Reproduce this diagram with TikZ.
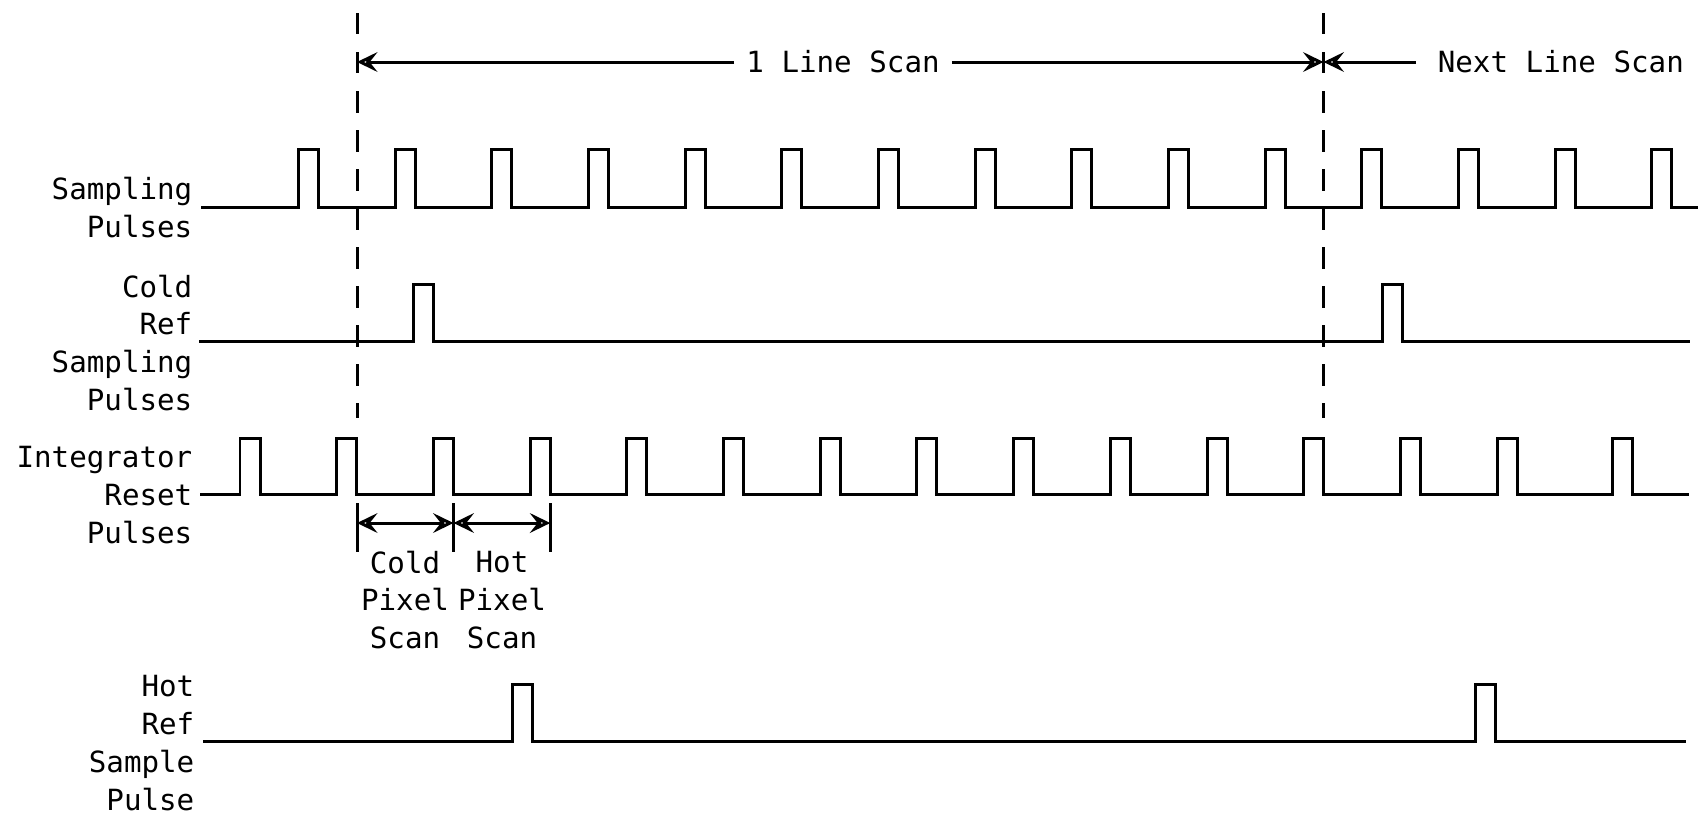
\documentclass[tikz,border=0pt]{standalone}
\usepackage{fontspec}
\setmonofont{DejaVu Sans Mono}
\usetikzlibrary{arrows.meta, positioning}
\tikzset{
  wave/.style={line width=0.85pt, line join=miter},
  guide/.style={line width=0.85pt, dash pattern=on 6.1pt off 5pt},
  tip/.style={line width=0.85pt, -{Stealth[open,length=5.8pt,width=5.6pt,inset=2.2pt]}},
  dim/.style={line width=0.85pt, {Stealth[open,length=5.8pt,width=5.6pt,inset=2.2pt]}-{Stealth[open,length=5.8pt,width=5.6pt,inset=2.2pt]}},
  lbl/.style={font=\ttfamily\fontsize{8.3}{10.8}\selectfont, align=right, inner sep=0pt},
  ctr/.style={font=\ttfamily\fontsize{8.3}{10.8}\selectfont, align=center, inner sep=0pt}
}

\begin{document}
\begin{tikzpicture}[x=0.01cm, y=-0.01cm]
\useasboundingbox (0,0) rectangle (1701,814);

\coordinate (d1top) at (357,13);
\coordinate (d1bot) at (357,418);
\coordinate (d2top) at (1323.5,13);
\coordinate (d2bot) at (1323.5,418);
\coordinate (d1a) at (357,62);
\coordinate (d2a) at (1323.5,62);
\draw[guide] (d1top) -- (d1bot);
\draw[guide] (d2top) -- (d2bot);

\node[ctr, inner xsep=3.3pt] (line) at (843,62) {1 Line Scan};
\node[lbl, anchor=west, inner xsep=6pt] (next) at (1416,62) {Next Line Scan};
\draw[tip] (line.west) -- (d1a);
\draw[tip] (line.east) -- (d2a);
\draw[tip] (next.west) -- (d2a);

\node[lbl, anchor=east] (samp) at (193,208) {Sampling\\Pulses};
\node[lbl, anchor=east] (cold) at (193,343) {Cold\\Ref\\Sampling\\Pulses};
\node[lbl, anchor=east] (integ) at (193,495) {Integrator\\Reset\\Pulses};
\node[lbl, anchor=east] (hot) at (195,743) {Hot\\Ref\\Sample\\Pulse};

\draw[wave] (201,207) foreach \i in {0,...,14} { -- (298.5+96.67*\i,207) -- ++(0,-58) -- ++(20,0) -- ++(0,58) } -- (1698,207);
\draw[wave] (199,341) -- (413.5,341) -- ++(0,-57) -- ++(20,0) -- ++(0,57)
  -- (1382,341) -- ++(0,-57) -- ++(20,0) -- ++(0,57) -- (1690,341);
\draw[wave] (200,494) foreach \i in {0,...,13} { -- (240+96.7*\i,494) -- ++(0,-56) -- ++(20,0) -- ++(0,56) }
  -- (1612.5,494) -- ++(0,-56) -- ++(20,0) -- ++(0,56) -- (1689,494);
\draw[wave] (203,741.5) -- (512,741.5) -- ++(0,-57) -- ++(20,0) -- ++(0,57)
  -- (1475,741.5) -- ++(0,-57) -- ++(20,0) -- ++(0,57) -- (1686,741.5);

\coordinate (e1t) at (357,503);
\coordinate (e1b) at (357,552);
\coordinate (e2t) at (453.5,503);
\coordinate (e2b) at (453.5,552);
\coordinate (e3t) at (550.3,503);
\coordinate (e3b) at (550.3,552);
\draw[wave] (e1t) -- (e1b) (e2t) -- (e2b) (e3t) -- (e3b);
\draw[dim] (357,523) -- (453.5,523);
\draw[dim] (453.5,523) -- (550.3,523);
\node[ctr] (cps) at (405,600) {Cold\\Pixel\\Scan};
\node[ctr] (hps) at (502,600) {Hot\\Pixel\\Scan};
\end{tikzpicture}
\end{document}
